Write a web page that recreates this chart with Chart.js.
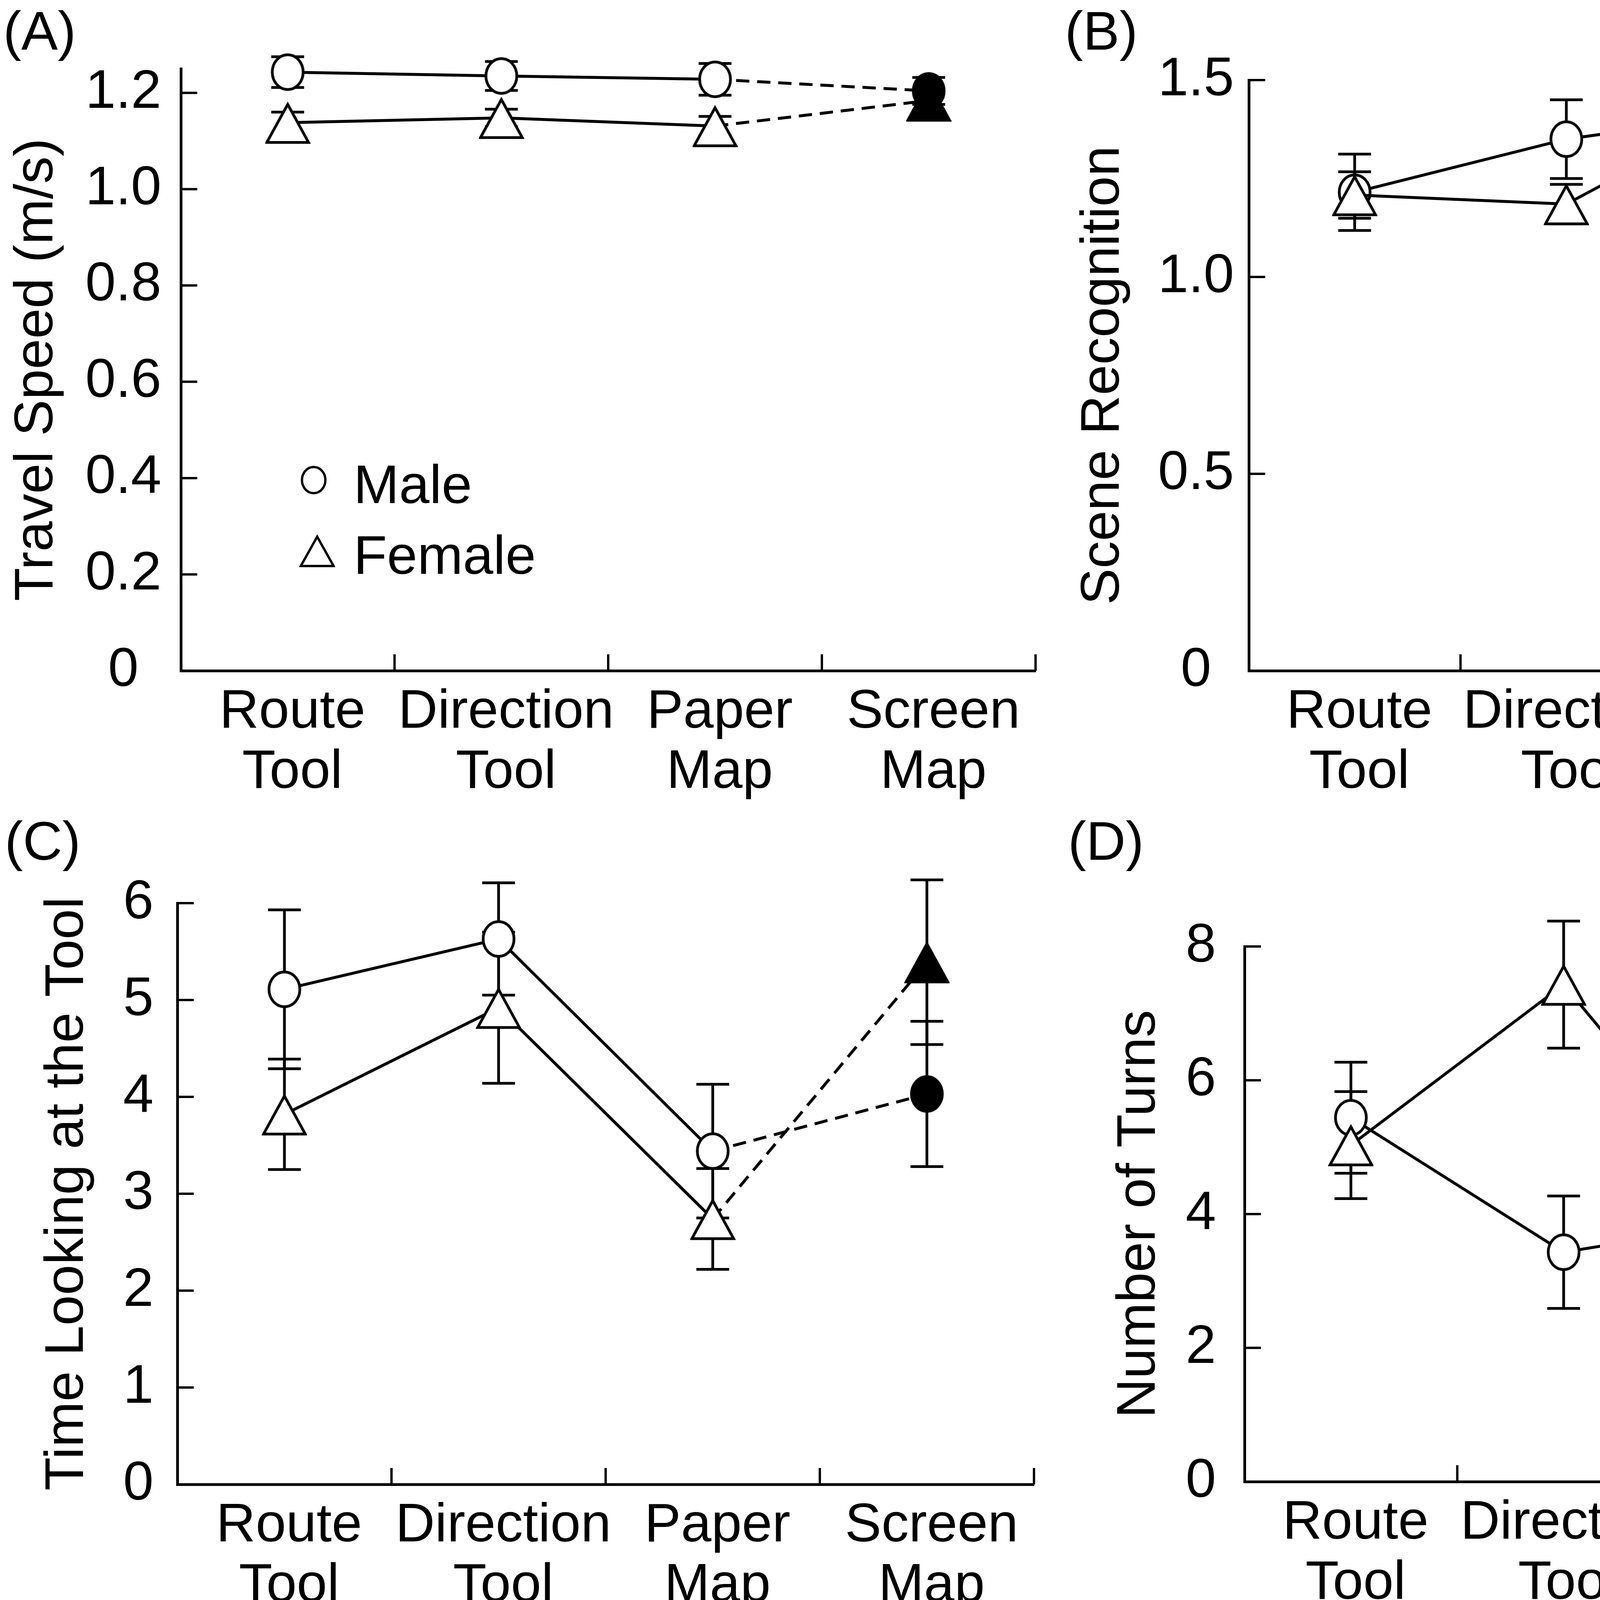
<!DOCTYPE html>
<html>
<head>
<meta charset="utf-8">
<script src="https://cdn.jsdelivr.net/npm/chart.js@4.4.1/dist/chart.umd.min.js"></script>
<style>
  html, body { margin: 0; padding: 0; background: #fff; }
  body { width: 5417px; height: 4153px; position: relative; overflow: hidden; font-family: "Liberation Sans", Arial, sans-serif; }
  canvas { position: absolute; }
  .tag { position: absolute; font-size: 140px; line-height: 1; color: #000; }
</style>
</head>
<body>
<div class="tag" style="left:8px;top:9px">(A)</div>
<div class="tag" style="left:2726px;top:9px">(B)</div>
<div class="tag" style="left:12px;top:2083px">(C)</div>
<div class="tag" style="left:2734px;top:2083px">(D)</div>

<canvas id="chartA" width="2708" height="2076" style="left:0;top:0"></canvas>
<canvas id="chartB" width="2709" height="2076" style="left:2708px;top:0"></canvas>
<canvas id="chartC" width="2708" height="2077" style="left:0;top:2076px"></canvas>
<canvas id="chartD" width="2709" height="2077" style="left:2708px;top:2076px"></canvas>

<script>
// categories shared by all four panels
const categories = [["Route", "Tool"], ["Direction", "Tool"], ["Paper", "Map"], ["Screen", "Map"]];
const seriesNames = ["Male", "Female"];

// (A) travel speed
const speedMale = [1.243, 1.235, 1.228, 1.204];
const speedMaleErr = [0.032, 0.030, 0.033, 0.028];
const speedFemale = [1.138, 1.148, 1.131, 1.184];
const speedFemaleErr = [0.022, 0.018, 0.020, 0.020];
const speedTicks = [0, 0.2, 0.4, 0.6, 0.8, 1.0, 1.2];
const speedTickLabels = ["0", "0.2", "0.4", "0.6", "0.8", "1.0", "1.2"];

// (B) scene recognition
const sceneMale = [1.215, 1.350, 1.425, 1.096];
const sceneMaleErr = [0.097, 0.100, 0.097, 0.082];
const sceneFemale = [1.208, 1.185, 1.472, 1.188];
const sceneFemaleErr = [0.059, 0.050, 0.100, 0.080];
const sceneTicks = [0, 0.5, 1.0, 1.5];
const sceneTickLabels = ["0", "0.5", "1.0", "1.5"];

// (C) time looking at the tool
const lookMale = [5.11, 5.63, 3.44, 4.03];
const lookMaleErr = [0.82, 0.58, 0.69, 0.75];
const lookFemale = [3.82, 4.92, 2.74, 5.39];
const lookFemaleErr = [0.57, 0.78, 0.52, 0.85];
const lookTicks = [0, 1, 2, 3, 4, 5, 6];
const lookTickLabels = ["0", "1", "2", "3", "4", "5", "6"];

// (D) number of turns
const turnsMale = [5.44, 3.43, 3.95, 3.25];
const turnsMaleErr = [0.83, 0.84, 0.60, 1.02];
const turnsFemale = [5.03, 7.43, 3.60, 2.49];
const turnsFemaleErr = [0.80, 0.95, 0.81, 0.43];
const turnsTicks = [0, 2, 4, 6, 8];
const turnsTickLabels = ["0", "2", "4", "6", "8"];

const FONT = "'Liberation Sans', Arial, sans-serif";

// marker images (the originals are slightly taller than wide)
function marker(shape, fill, w, h, lw) {
  const c = document.createElement("canvas");
  c.width = w; c.height = h;
  const g = c.getContext("2d");
  g.lineWidth = lw; g.strokeStyle = "#000"; g.fillStyle = fill;
  g.beginPath();
  if (shape === "circle") {
    g.ellipse(w / 2, h / 2, w / 2 - lw / 2 - 1, h / 2 - lw / 2 - 1, 0, 0, Math.PI * 2);
  } else {
    g.moveTo(w / 2, lw + 1);
    g.lineTo(w - lw / 2 - 1, h - lw / 2 - 1);
    g.lineTo(lw / 2 + 1, h - lw / 2 - 1);
    g.closePath();
  }
  g.fill(); g.stroke();
  return c;
}
const openCircle = marker("circle", "#fff", 88, 98, 7);
const fullCircle = marker("circle", "#000", 88, 98, 7);
const openTri = marker("tri", "#fff", 116, 110, 7);
const fullTri = marker("tri", "#000", 116, 110, 7);
const legendCircle = marker("circle", "#fff", 68, 75, 6);
const legendTriOpen = marker("tri", "#fff", 92, 86, 6);

// error bars go under the markers
const errorBars = {
  id: "errorBars",
  beforeDatasetsDraw(chart) {
    const { ctx, scales: { x, y } } = chart;
    ctx.save();
    ctx.strokeStyle = "#000";
    ctx.lineWidth = 7;
    chart.data.datasets.forEach(ds => {
      ds.data.forEach((v, i) => {
        const px = x.getPixelForValue(i);
        const hi = y.getPixelForValue(v + ds.errors[i]);
        const lo = y.getPixelForValue(v - ds.errors[i]);
        ctx.beginPath();
        ctx.moveTo(px, hi); ctx.lineTo(px, lo);
        ctx.moveTo(px - 42, hi); ctx.lineTo(px + 42, hi);
        ctx.moveTo(px - 42, lo); ctx.lineTo(px + 42, lo);
        ctx.stroke();
      });
    });
    ctx.restore();
  }
};

// tick marks point into the plot
const innerTicks = {
  id: "innerTicks",
  beforeDatasetsDraw(chart) {
    const { ctx, chartArea: a, scales: { x, y } } = chart;
    ctx.save();
    ctx.strokeStyle = "#000";
    ctx.lineWidth = 6;
    ctx.beginPath();
    y.ticks.forEach(t => {
      const py = y.getPixelForValue(t.value);
      ctx.moveTo(a.left, py); ctx.lineTo(a.left + 42, py);
    });
    categories.forEach((c, i) => {
      const px = x.getPixelForValue(i + 0.5);
      ctx.moveTo(px, a.bottom); ctx.lineTo(px, a.bottom - 42);
    });
    ctx.stroke();
    ctx.restore();
  }
};

// legend only lives in panel A
const legendBox = {
  id: "legendBox",
  afterDraw(chart) {
    if (chart.canvas.id !== "chartA") return;
    const { ctx, chartArea: a } = chart;
    ctx.save();
    ctx.drawImage(legendCircle, a.left + 340 - legendCircle.width / 2, a.top + 1053 - legendCircle.height / 2);
    ctx.drawImage(legendTriOpen, a.left + 349 - legendTriOpen.width / 2, a.top + 1234 - legendTriOpen.height / 2);
    ctx.fillStyle = "#000";
    ctx.font = "140px " + FONT;
    ctx.textBaseline = "alphabetic";
    ctx.fillText(seriesNames[0], a.left + 442, a.top + 1112);
    ctx.fillText(seriesNames[1], a.left + 442, a.top + 1293);
    ctx.restore();
  }
};

function series(name, values, errors, open, filled) {
  return {
    label: name,
    data: values,
    errors: errors,
    borderColor: "#000",
    borderWidth: 7.5,
    pointStyle: values.map((v, i) => i === 3 ? filled : open),
    pointRadius: 45,
    pointHoverRadius: 45,
    clip: false,
    tension: 0,
    segment: { borderDash: ctx => ctx.p1DataIndex === 3 ? [34, 20] : undefined }
  };
}

function makeChart(id, male, maleErr, female, femaleErr, yMax, yTicks, yLabels, title, box) {
  const font = { family: FONT, size: 140, lineHeight: 1.1 };
  return new Chart(document.getElementById(id), {
    type: "line",
    data: {
      labels: categories,
      // female first so its markers sit on top
      datasets: [
        series(seriesNames[1], female, femaleErr, openTri, fullTri),
        series(seriesNames[0], male, maleErr, openCircle, fullCircle)
      ]
    },
    options: {
      responsive: false,
      animation: false,
      devicePixelRatio: 1,
      events: [],
      layout: { padding: { top: box.top, right: box.W - box.right, left: 0, bottom: 0 } },
      plugins: { legend: { display: false }, tooltip: { enabled: false } },
      scales: {
        x: {
          type: "category",
          offset: true,
          grid: { display: false, offset: true, drawTicks: false },
          border: { display: true, color: "#000", width: 7 },
          ticks: { color: "#000", font, padding: 30, labelOffset: 12, maxRotation: 0, autoSkip: false },
          afterFit: s => { s.height = box.H - box.bottom; }
        },
        y: {
          min: 0,
          max: yMax,
          grid: { display: false, drawTicks: false },
          border: { display: true, color: "#000", width: 7 },
          ticks: {
            color: "#000", font, padding: box.tickPad, crossAlign: "center",
            callback: (v, i) => yLabels[i]
          },
          afterBuildTicks: s => { s.ticks = yTicks.map(v => ({ value: v })); },
          afterFit: s => { s.width = box.left; },
          title: {
            display: true, text: title, color: "#000",
            font: { family: FONT, size: 140, lineHeight: 1.2 },
            padding: { top: box.titlePad, bottom: 0 }
          }
        }
      }
    },
    plugins: [innerTicks, errorBars, legendBox]
  });
}

makeChart("chartA", speedMale, speedMaleErr, speedFemale, speedFemaleErr, 1.25, speedTicks, speedTickLabels,
  "Travel Speed (m/s)", { W: 2708, H: 2076, left: 463, right: 2651, top: 176, bottom: 1717, titlePad: 11, tickPad: 50 });
makeChart("chartB", sceneMale, sceneMaleErr, sceneFemale, sceneFemaleErr, 1.5, sceneTicks, sceneTickLabels,
  "Scene Recognition", { W: 2709, H: 2076, left: 489, right: 2673, top: 205, bottom: 1717, titlePad: 33, tickPad: 38 });
makeChart("chartC", lookMale, lookMaleErr, lookFemale, lookFemaleErr, 6, lookTicks, lookTickLabels,
  "Time Looking at the Tool", { W: 2708, H: 2077, left: 454, right: 2647, top: 236, bottom: 1724, titlePad: 89, tickPad: 61 });
makeChart("chartD", turnsMale, turnsMaleErr, turnsFemale, turnsFemaleErr, 8, turnsTicks, turnsTickLabels,
  "Number of Turns", { W: 2709, H: 2077, left: 478, right: 2673, top: 347, bottom: 1717, titlePad: 125, tickPad: 73 });
</script>
</body>
</html>
